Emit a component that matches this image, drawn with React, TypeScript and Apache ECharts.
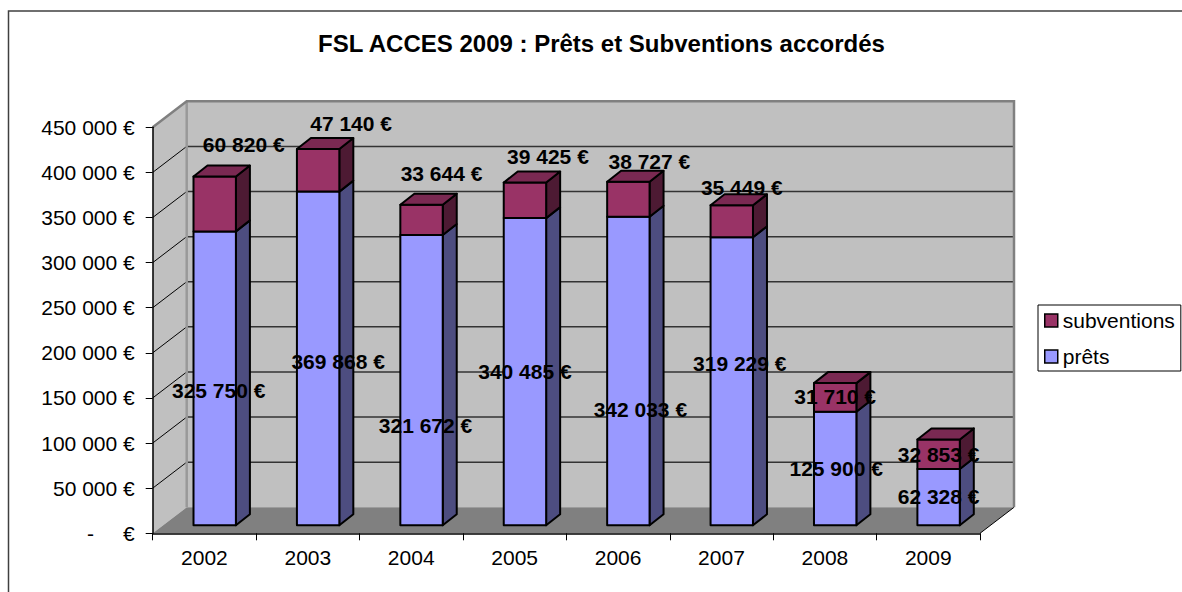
import React, { useEffect, useRef } from 'react';
import * as echarts from 'echarts';

// ---------- data ----------
const years = ['2002', '2003', '2004', '2005', '2006', '2007', '2008', '2009'];
const prets = [325750, 369868, 321672, 340485, 342033, 319229, 125900, 62328];
const subventions = [60820, 47140, 33644, 39425, 38727, 35449, 31710, 32853];
const yTicks = [0, 50000, 100000, 150000, 200000, 250000, 300000, 350000, 400000, 450000];
const titleText = 'FSL ACCES 2009 : Prêts et Subventions accordés';

// ---------- styling / placement ----------
const FONT = '"Liberation Sans", Arial, sans-serif';
const WALL = [34, -26]; // depth of the 3D box
const OFF = [10.3, -8]; // front face of bars relative to front plane
const BD = [14, -11]; // bar depth
const BAR_FRAC = 0.41;
// manual label nudges (px) relative to each segment centre
const pretsLabelNudge = [[4, 12], [20, 3], [4, 45], [0, 0], [12, 38], [8, -18], [1, 0], [0, -1]];
const subvLabelNudge = [[29, -59], [33, -47], [20, -46], [23, -44], [21, -38], [10, -34], [0, -1], [0, 0]];

const fmt = (v: number) => String(Math.round(v)).replace(/\B(?=(\d{3})+(?!\d))/g, ' ') + ' €';

function makeBarRender(front: string, side: string, top: string, isTop: boolean) {
  return (params: any, api: any) => {
    const i = api.value(0);
    const lo = api.value(1);
    const hi = api.value(2);
    const pLo = api.coord([i, lo]);
    const pHi = api.coord([i, hi]);
    const bw = api.size([1, 0])[0];
    const w = bw * BAR_FRAC;
    const x0 = pLo[0] + OFF[0] - w / 2;
    const x1 = x0 + w;
    const yb = pLo[1] + OFF[1];
    const yt = pHi[1] + OFF[1];
    const st = { stroke: '#000', lineWidth: 2, lineJoin: 'round' };
    const children: any[] = [
      {
        type: 'polygon',
        shape: { points: [[x1, yb], [x1, yt], [x1 + BD[0], yt + BD[1]], [x1 + BD[0], yb + BD[1]]] },
        style: { fill: side, ...st },
      },
      { type: 'rect', shape: { x: x0, y: yt, width: w, height: yb - yt }, style: { fill: front, ...st } },
    ];
    if (isTop) {
      children.push({
        type: 'polygon',
        shape: { points: [[x0, yt], [x1, yt], [x1 + BD[0], yt + BD[1]], [x0 + BD[0], yt + BD[1]]] },
        style: { fill: top, ...st },
      });
    }
    return { type: 'group', children };
  };
}

function frameRender(params: any, api: any) {
  const bw = api.size([1, 0])[0];
  const first = api.coord([0, 0]);
  const last = api.coord([years.length - 1, 0]);
  const xL = first[0] - bw / 2;
  const xR = last[0] + bw / 2;
  const yBot = first[1];
  const yTop = api.coord([0, yTicks[yTicks.length - 1]])[1];
  const [dx, dy] = WALL;
  const ch: any[] = [];
  ch.push({
    type: 'polygon',
    shape: { points: [[xL, yTop], [xL + dx, yTop + dy], [xL + dx, yBot + dy], [xL, yBot]] },
    style: { fill: '#C0C0C0' },
  });
  ch.push({
    type: 'rect',
    shape: { x: xL + dx, y: yTop + dy, width: xR - xL, height: yBot - yTop },
    style: { fill: '#C0C0C0' },
  });
  yTicks.slice(1, -1).forEach((v) => {
    const y = api.coord([0, v])[1];
    ch.push({
      type: 'line',
      shape: { x1: xL, y1: y, x2: xL + dx, y2: y + dy },
      style: { stroke: '#000', lineWidth: 1 },
    });
    ch.push({
      type: 'line',
      shape: { x1: xL + dx, y1: y + dy, x2: xR + dx, y2: y + dy },
      style: { stroke: '#333', lineWidth: 1.5 },
    });
  });
  ch.push({
    type: 'polygon',
    shape: { points: [[xL, yBot], [xR, yBot], [xR + dx, yBot + dy], [xL + dx, yBot + dy]] },
    style: { fill: '#808080' },
  });
  ch.push({
    type: 'line',
    shape: { x1: xR, y1: yBot, x2: xR + dx, y2: yBot + dy },
    style: { stroke: '#000', lineWidth: 1 },
  });
  ch.push({
    type: 'line',
    shape: { x1: xL + dx, y1: yTop + dy, x2: xL + dx, y2: yBot + dy },
    style: { stroke: '#999', lineWidth: 2.5 },
  });
  ch.push({
    type: 'polyline',
    shape: { points: [[xL, yTop], [xL + dx, yTop + dy], [xR + dx, yTop + dy], [xR + dx, yBot + dy]] },
    style: { stroke: '#808080', lineWidth: 2.5, fill: 'none' },
  });
  return { type: 'group', children: ch };
}

function labelRender(params: any, api: any) {
  const i = api.value(0);
  const lo = api.value(1);
  const hi = api.value(2);
  const k = api.value(3);
  const pLo = api.coord([i, lo]);
  const pHi = api.coord([i, hi]);
  const nudge = (k === 0 ? pretsLabelNudge : subvLabelNudge)[i];
  const x = pLo[0] + OFF[0] + nudge[0];
  const y = (pLo[1] + pHi[1]) / 2 + OFF[1] + nudge[1];
  return {
    type: 'text',
    x,
    y,
    style: {
      text: fmt(k === 0 ? prets[i] : subventions[i]),
      fill: '#000',
      fontSize: 21,
      fontWeight: 'bold',
      fontFamily: FONT,
      align: 'center',
      verticalAlign: 'middle',
    },
  };
}

export default function App() {
  const ref = useRef<HTMLDivElement>(null);
  useEffect(() => {
    if (!ref.current) return;
    const chart = echarts.init(ref.current, undefined, { renderer: 'svg' });
    const pretsData = years.map((_, i) => [i, 0, prets[i]]);
    const subvData = years.map((_, i) => [i, prets[i], prets[i] + subventions[i]]);
    const labelData = [
      ...years.map((_, i) => [i, 0, prets[i], 0]),
      ...years.map((_, i) => [i, prets[i], prets[i] + subventions[i], 1]),
    ];
    chart.setOption({
      animation: false,
      backgroundColor: '#fff',
      graphic: [
        {
          type: 'rect',
          shape: { x: 8.5, y: 11, width: 1300, height: 800 },
          style: { fill: 'none', stroke: '#404040', lineWidth: 1.5 },
          silent: true,
          z: 0,
        },
        {
          type: 'text',
          x: 601.5,
          y: 43.5,
          style: {
            text: titleText,
            fill: '#000',
            font: 'bold 24px ' + FONT,
            textAlign: 'center',
            textVerticalAlign: 'middle',
            align: 'center',
            verticalAlign: 'middle',
          },
          silent: true,
        },
      ],
      legend: {
        data: ['subventions', 'prêts'],
        orient: 'vertical',
        left: 1038,
        top: 305,
        padding: [5, 6, 4, 6],
        itemGap: 15,
        itemWidth: 13,
        itemHeight: 13,
        icon: 'rect',
        borderColor: '#000',
        borderWidth: 1,
        backgroundColor: '#fff',
        selectedMode: false,
        itemStyle: { borderColor: '#000', borderWidth: 1.5 },
        textStyle: { fontSize: 21, color: '#000', fontFamily: FONT },
      },
      grid: { left: 152.7, top: 127.3, width: 827.3, height: 406, containLabel: false },
      xAxis: {
        type: 'category',
        data: years,
        z: 5,
        axisLine: { lineStyle: { color: '#000', width: 1.5 } },
        axisTick: { show: true, length: 7, lineStyle: { color: '#000', width: 1 } },
        axisLabel: { fontSize: 21, color: '#000', fontFamily: FONT, margin: 14 },
        splitLine: { show: false },
      },
      yAxis: {
        type: 'value',
        min: 0,
        max: 450000,
        interval: 50000,
        z: 5,
        axisLine: { show: true, lineStyle: { color: '#000', width: 1.5 } },
        axisTick: { show: true, length: 7, lineStyle: { color: '#000', width: 1 } },
        splitLine: { show: false },
        axisLabel: {
          fontSize: 21,
          color: '#000',
          fontFamily: FONT,
          margin: 18,
          formatter: (v: number) => (v === 0 ? '{dash|-}{eur|€}' : fmt(v)),
          rich: {
            dash: { width: 36, align: 'left', fontSize: 21, fontFamily: FONT, color: '#000' },
            eur: { fontSize: 21, fontFamily: FONT, color: '#000' },
          },
        },
      },
      series: [
        {
          type: 'custom',
          name: 'frame',
          silent: true,
          z: 1,
          renderItem: frameRender,
          data: [[0, 0]],
          encode: { x: 0, y: 1 },
        },
        {
          type: 'custom',
          name: 'prêts',
          silent: true,
          z: 2,
          itemStyle: { color: '#9999FF', borderColor: '#000' },
          renderItem: makeBarRender('#9999FF', '#4D4D80', '#7A7ACC', false),
          data: pretsData,
          encode: { x: 0, y: [1, 2] },
        },
        {
          type: 'custom',
          name: 'subventions',
          silent: true,
          z: 2,
          itemStyle: { color: '#993366', borderColor: '#000' },
          renderItem: makeBarRender('#993366', '#4D1A33', '#7A2952', true),
          data: subvData,
          encode: { x: 0, y: [1, 2] },
        },
        {
          type: 'custom',
          name: 'labels',
          silent: true,
          z: 3,
          renderItem: labelRender,
          data: labelData,
          encode: { x: 0, y: [1, 2] },
        },
      ],
    });
    return () => chart.dispose();
  }, []);
  return <div ref={ref} style={{ position: 'absolute', left: 0, top: 0, width: 1182, height: 592 }} />;
}
